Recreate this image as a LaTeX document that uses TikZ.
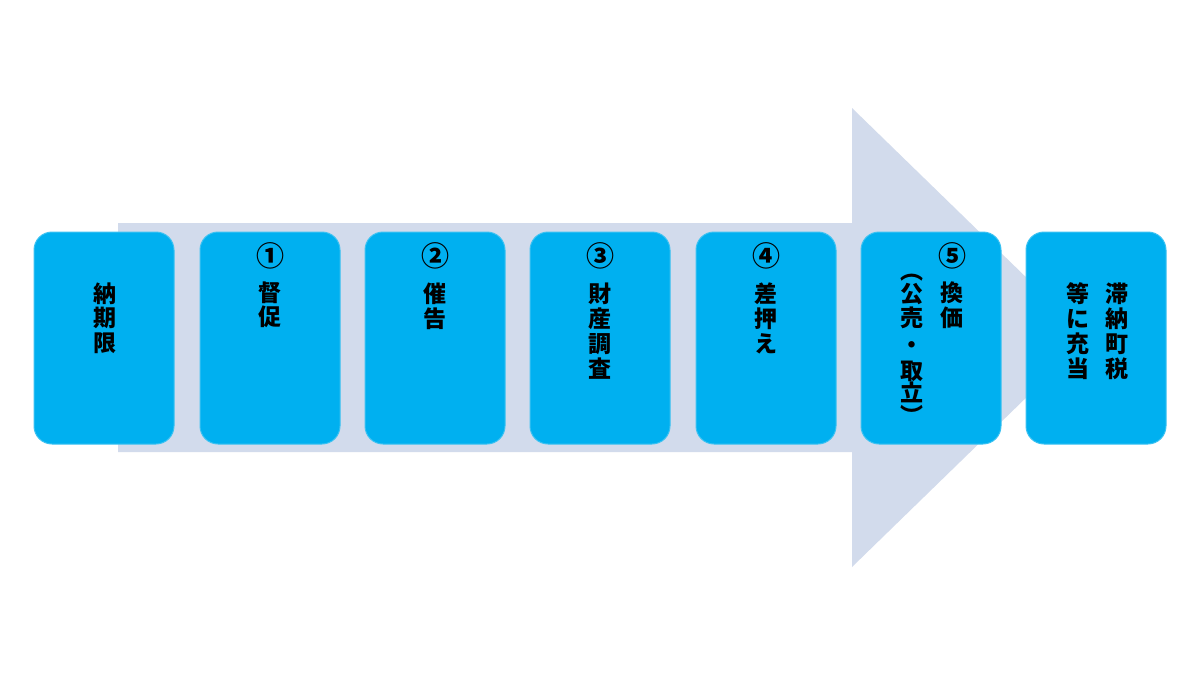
\documentclass[tikz,border=0pt]{standalone}
\usepackage{fontspec}
\newfontfamily\jp{Noto Sans CJK JP}
\definecolor{boxblue}{HTML}{00B0F0}
\definecolor{boxedge}{HTML}{3CC2F2}
\definecolor{arrowgray}{HTML}{D2DBEC}
\tikzset{
  stepbox/.style={draw=boxedge, line width=1pt, fill=boxblue, rounded corners=18pt,
    minimum width=140pt, minimum height=212pt, inner sep=0pt},
  jch/.style={font=\jp\bfseries\fontsize{23pt}{23pt}\selectfont, text=black,
    inner sep=0pt, text height=0.88em, text depth=0.12em, anchor=center},
  jnum/.style={jch, font=\jp\bfseries\fontsize{28pt}{28pt}\selectfont},
}
\begin{document}
\begin{tikzpicture}[x=1pt,y=-1pt]
\useasboundingbox (0,0) rectangle (1200,675);
\fill[white] (0,0) rectangle (1200,675);
% big arrow
\coordinate (as1) at (118,223);
\coordinate (as2) at (852,223);
\coordinate (ah1) at (852,108);
\coordinate (tip) at (1088,337.5);
\coordinate (ah2) at (852,567);
\coordinate (as3) at (852,452);
\coordinate (as4) at (118,452);
\fill[arrowgray] (as1) -- (as2) -- (ah1) -- (tip) -- (ah2) -- (as3) -- (as4) -- cycle;
% boxes
\node[stepbox] (b1) at (104,338) {};
\node[stepbox] (b2) at (270,338) {};
\node[stepbox] (b3) at (435,338) {};
\node[stepbox] (b4) at (600,338) {};
\node[stepbox] (b5) at (766,338) {};
\node[stepbox] (b6) at (931,338) {};
\node[stepbox] (b7) at (1096,338) {};
% circled numbers
\node[jnum] (n1) at (270,263) {①};
\node[jnum] (n2) at (435,263) {②};
\node[jnum] (n3) at (600,263) {③};
\node[jnum] (n4) at (766,263) {④};
\node[jnum] (n5) at (952,263) {⑤};
% texts
\foreach \ch/\yy [count=\i] in {納/299,期/323,限/348}
  \node[jch] (t1-\i) at (105,\yy) {\ch};
\foreach \ch/\yy [count=\i] in {督/298,促/322}
  \node[jch] (t2-\i) at (270,\yy) {\ch};
\foreach \ch/\yy [count=\i] in {催/299,告/324}
  \node[jch] (t3-\i) at (435,\yy) {\ch};
\foreach \ch/\yy [count=\i] in {財/299,産/324,調/349,査/374}
  \node[jch] (t4-\i) at (600,\yy) {\ch};
\foreach \ch/\yy [count=\i] in {差/299,押/324,え/349}
  \node[jch] (t5-\i) at (766,\yy) {\ch};
\foreach \ch/\yy [count=\i] in {換/298,価/323}
  \node[jch] (t6a-\i) at (952,\yy) {\ch};
\foreach \ch/\yy [count=\i] in {︵/276,公/299,売/323,・/350,取/376,立/398,︶/421}
  \node[jch] (t6b-\i) at (912,\yy) {\ch};
\foreach \ch/\yy [count=\i] in {滞/299,納/324,町/349,税/374}
  \node[jch] (t7a-\i) at (1117,\yy) {\ch};
\foreach \ch/\yy [count=\i] in {等/299,に/324,充/349,当/374}
  \node[jch] (t7b-\i) at (1078,\yy) {\ch};
\end{tikzpicture}
\end{document}
